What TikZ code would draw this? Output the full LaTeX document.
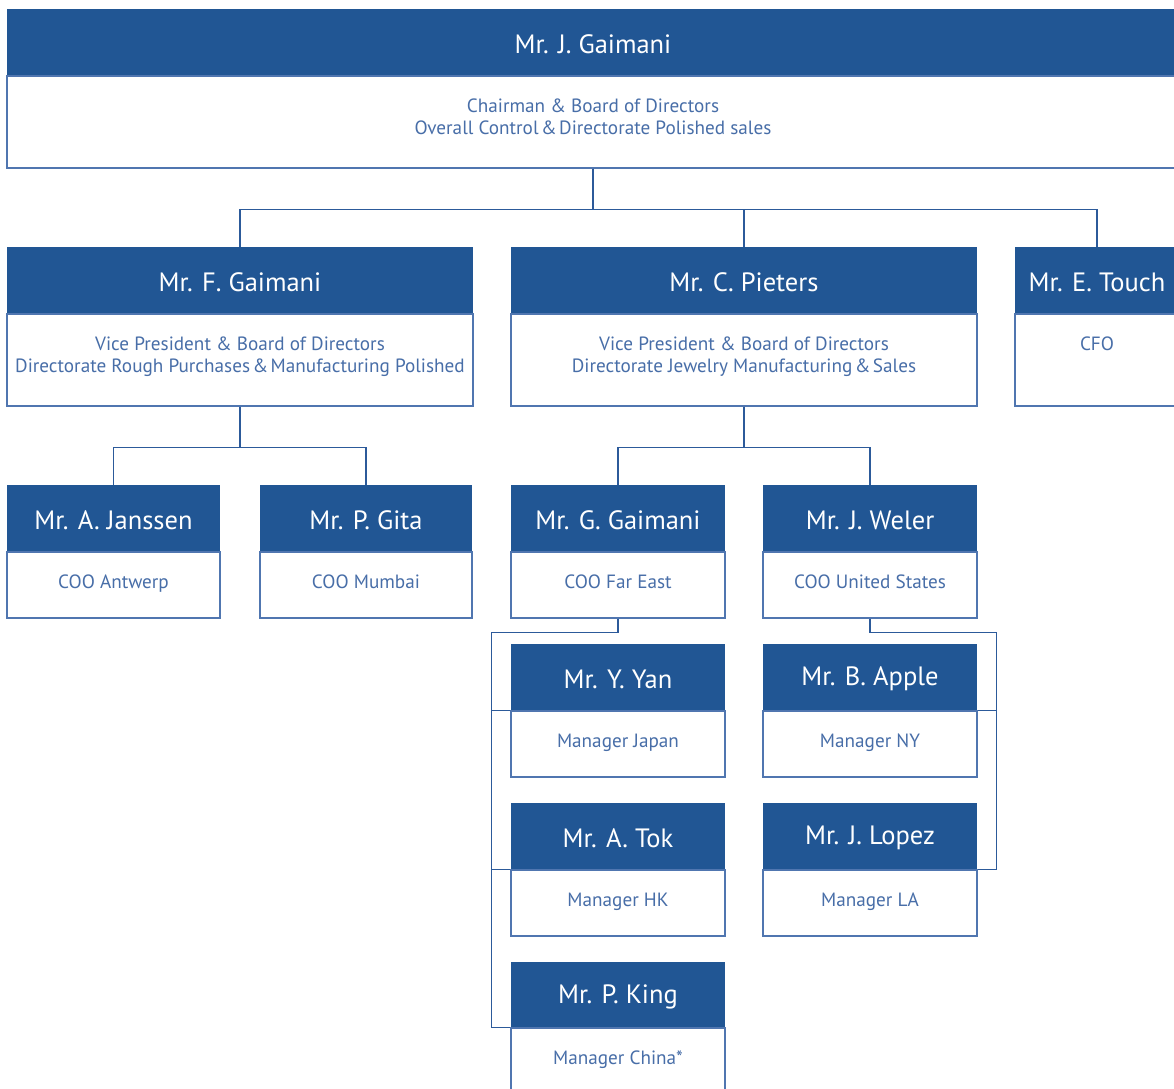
\documentclass[tikz,border=0pt]{standalone}
\usepackage{fontspec}
\setmainfont{PT Sans}
\usetikzlibrary{positioning}
\definecolor{hdr}{RGB}{33,86,148}
\definecolor{bordc}{RGB}{80,118,176}
\definecolor{txtc}{RGB}{72,110,168}
\definecolor{linec}{RGB}{44,90,154}
\newcommand\amp{\hspace{2.5pt}\&\hspace{2.5pt}}
\tikzset{
  hbox/.style={fill=hdr, draw=none, inner sep=0pt, text=white, font=\fontsize{26.5}{28}\selectfont},
  htext/.style={text=white, inner sep=0pt, font=\fontsize{26.5}{28}\selectfont},
  bbox/.style={draw=bordc, line width=1.3pt, fill=white, inner sep=0pt},
  btext/.style={text=txtc, inner sep=0pt, align=center, font=\fontsize{19.2}{21.5}\selectfont, anchor=north},
  conn/.style={draw=linec, line width=1.3pt},
}
% #1 name, #2 x-left, #3 x-right, #4 y-top, #5 y-header-bottom, #6 y-bottom, #7 title, #8 body
\newcommand\orgbox[8]{%
  \node[hbox, minimum width={(#3-#2)*1pt}, minimum height={(#5-#4)*1pt}] (#1-h) at ({(#2+#3)/2},{(#4+#5)/2}) {};
  \node[htext] (#1-n) at ([yshift=-2pt]#1-h.center) {#7};
  \node[bbox, minimum width={(#3-#2)*1pt}, minimum height={(#6-#5)*1pt}, anchor=north] (#1-b) at (#1-h.south) {};
  \node[btext] (#1-t) at ([yshift=-23.5pt]#1-b.north) {#8};
}
\begin{document}
\begin{tikzpicture}[x=1pt,y=-1pt]
\useasboundingbox (0,0) rectangle (1174,1088);
\orgbox{top}{7}{1179}{9}{75}{167}{Mr. J. Gaimani}{Chairman \& Board of Directors\\Overall Control\amp Directorate Polished sales}
\orgbox{fg}{7}{473}{247}{313}{405}{Mr. F. Gaimani}{Vice President \& Board of Directors\\Directorate Rough Purchases\amp Manufacturing Polished}
\orgbox{cp}{511}{977}{247}{313}{405}{Mr. C. Pieters}{Vice President \& Board of Directors\\Directorate Jewelry Manufacturing\amp Sales}
\orgbox{et}{1015}{1179}{247}{313}{405}{Mr. E. Touch}{CFO}
\orgbox{aj}{7}{220}{485}{551}{617}{Mr. A. Janssen}{COO Antwerp}
\orgbox{pg}{260}{472}{485}{551}{617}{Mr. P. Gita}{COO Mumbai}
\orgbox{gg}{511}{725}{485}{551}{617}{Mr. G. Gaimani}{COO Far East}
\orgbox{jw}{763}{977}{485}{551}{617}{Mr. J. Weler}{COO United States}
\orgbox{yy}{511}{725}{644}{710}{776}{Mr. Y. Yan}{Manager Japan}
\orgbox{at}{511}{725}{803}{869}{935}{Mr. A. Tok}{Manager HK}
\orgbox{pk}{511}{725}{962}{1027}{1093}{Mr. P. King}{Manager China*}
\orgbox{ba}{763}{977}{644}{710}{776}{Mr. B. Apple}{Manager NY}
\orgbox{jl}{763}{977}{803}{869}{935}{Mr. J. Lopez}{Manager LA}
% level 1 -> 2
\draw[conn] (top-b.south) -- ++(0,41) -| (fg-h.north);
\draw[conn] (top-b.south) -- ++(0,41) -| (cp-h.north);
\draw[conn] (top-b.south) -- ++(0,41) -| (et-h.north);
% F. Gaimani -> 3
\draw[conn] (fg-b.south) -- ++(0,41) -| (aj-h.north);
\draw[conn] (fg-b.south) -- ++(0,41) -| (pg-h.north);
% C. Pieters -> 3
\draw[conn] (cp-b.south) -- ++(0,41) -| (gg-h.north);
\draw[conn] (cp-b.south) -- ++(0,41) -| (jw-h.north);
% G. Gaimani bracket
\coordinate (gl) at ([xshift=-19pt]pk-b.north west);
\draw[conn] (gg-b.south) -- ++(0,14) -| (gl) -- (pk-b.north west);
\draw[conn] (yy-b.north west) -- ++(-19,0);
\draw[conn] (at-b.north west) -- ++(-19,0);
% J. Weler bracket
\coordinate (wr) at ([xshift=19pt]jl-b.north east);
\draw[conn] (jw-b.south) -- ++(0,14) -| (wr) -- (jl-b.north east);
\draw[conn] (ba-b.north east) -- ++(19,0);
\end{tikzpicture}
\end{document}
